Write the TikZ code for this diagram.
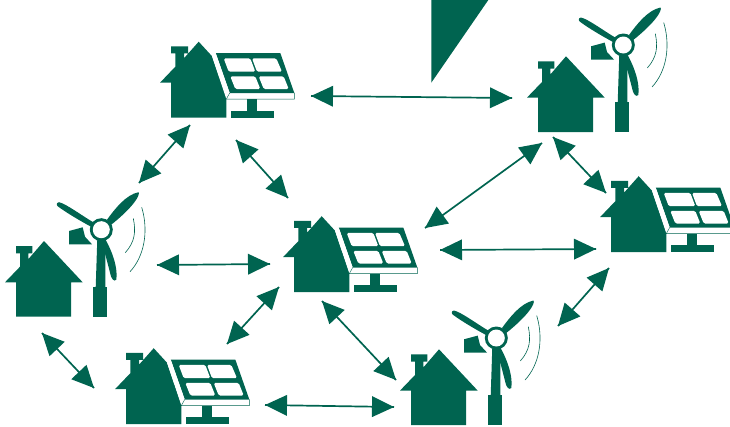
\documentclass[tikz,border=0pt]{standalone}
\usepackage{xcolor}
\usetikzlibrary{calc}
\definecolor{gridgreen}{RGB}{0,100,80}
\tikzset{
  link/.style={line width=1.7pt, draw=gridgreen},
  linkhead/.style={fill=gridgreen, draw=none},
  solid part/.style={fill=gridgreen, draw=none},
  cell/.style={fill=white, draw=none, rounded corners=1.5pt},
  % roof, walls and chimney, origin at the left wall foot
  solarhouse/.pic={
    \fill[gridgreen] (0,0) -- (0,-35) -- (-11,-35) -- (4.3,-51) -- (4.3,-64.3) -- (0,-64.3) -- (0,-71.3) -- (17,-71.3) -- (17,-64.3) -- (13,-64.3) -- (13,-59.5) -- (27.7,-76) -- (41,-61.5) -- (55.3,-20) -- (55.3,0) -- cycle;
    % panel
    \fill[solid part] (44.7,-64.7) -- (109.3,-64.7) -- (123.3,-24.7) -- (58.7,-24.7) -- cycle;
    \fill[white] (41,-61.5) -- (44.7,-64.7) -- (58.7,-24.7) -- (57,-18.6) -- (55.3,-19) -- cycle;
    \draw[gridgreen, fill=white, line width=.4pt] (55.3,-18.6) -- (123.3,-18.6) -- (123.3,-24.7) -- (58.7,-24.7) -- cycle;
    \fill[cell] (52.7,-59.3) -- (79.3,-59.3) -- (84.3,-46) -- (57.7,-46) -- cycle;
    \fill[cell] (81,-59.3) -- (105.3,-59.3) -- (111,-46) -- (86,-46) -- cycle;
    \fill[cell] (59.3,-41.3) -- (84.3,-41.3) -- (89.3,-28.7) -- (64.3,-28.7) -- cycle;
    \fill[cell] (87.7,-41.3) -- (112.7,-41.3) -- (117.7,-28.7) -- (92.7,-28.7) -- cycle;
    % stand
    \fill[gridgreen] (76,-18.6) rectangle (86,-7);
    \fill[gridgreen] (60,-7) rectangle (102.7,0);
  },
  % same origin, the hub sits 85.3 to the right and 87 up
  windhouse/.pic={
    \fill[gridgreen] (0,0) -- (0,-34.4) -- (-11,-34.4) -- (4,-50) -- (4,-63.4) -- (0,-63.4) -- (0,-70.7) -- (16.3,-70.7) -- (16.3,-63.4) -- (12.3,-63.4) -- (12.3,-57.5) -- (28,-75.7) -- (66.7,-34.4) -- (55,-34.4) -- (55,0) -- cycle;
    % tower
    \fill[gridgreen] (76.7,0) rectangle (91.3,-29.7);
    \fill[gridgreen] (79.7,-29) -- (81.3,-78) -- (89.3,-78) -- (89.3,-29) -- cycle;
    % nacelle
    \fill[gridgreen] (53,-85.7) -- (66.7,-89.4) -- (69,-80) -- (76,-72.4) -- (53,-72.4) -- cycle;
    % blades
    \fill[gridgreen] (91,-97) .. controls (99,-108) and (110,-122) .. (122.5,-124.5) .. controls (124.5,-122) and (118,-110) .. (94,-91) -- cycle;
    \fill[gridgreen] (78,-94) .. controls (66,-101) and (50,-113) .. (43,-114.5) .. controls (40,-114) and (40,-111) .. (43,-109.5) .. controls (52,-103) and (64,-96) .. (75,-90) -- cycle;
    \fill[gridgreen] (89,-78) .. controls (97,-64) and (102,-48) .. (100.3,-37) .. controls (98,-34.5) and (95,-38) .. (94,-44) .. controls (92,-52) and (90,-60) .. (88,-66) -- cycle;
    % hub
    \fill[gridgreen] (85.3,-87) circle (11.5);
    \fill[white] (85.3,-87) circle (8.5);
    % swoosh lines
    \draw[gridgreen, line width=.6pt] (117.3,-98.4) .. controls (120,-85) and (119,-75) .. (109.3,-64);
    \draw[gridgreen, line width=.6pt] (125.7,-109.4) .. controls (133,-85) and (128,-60) .. (114,-45);
  }
}
% line with a filled head at both ends
\newcommand{\linkboth}[2]{
  \draw[link] (#1) -- (#2);
  \fill[linkhead] (#1) -- ($(#1)!22pt!(#2)!10.5pt!90:(#2)$) -- ($(#1)!22pt!(#2)!10.5pt!-90:(#2)$) -- cycle;
  \fill[linkhead] (#2) -- ($(#2)!22pt!(#1)!10.5pt!90:(#1)$) -- ($(#2)!22pt!(#1)!10.5pt!-90:(#1)$) -- cycle;
}
\begin{document}
\begin{tikzpicture}[x=1pt, y=-1pt]
  \useasboundingbox (0,0) rectangle (730,426);
  \begin{scope}
  \clip (0,0) rectangle (730,426);

  % Bolt at the top edge
  \fill[gridgreen] (431.3,-1) -- (489,-1) -- (431.3,82.7) -- cycle;

  % Solar houses
  \pic at (171,117.7) {solarhouse};
  \pic at (294,292.2) {solarhouse};
  \pic at (611,252.2) {solarhouse};
  \pic at (126,424.2) {solarhouse};

  % Wind houses
  \pic at (16,316.7) {windhouse};
  \pic at (538,132) {windhouse};
  \pic at (411,425) {windhouse};
  \end{scope}

  % Connector ends
  \coordinate (a1) at (311,96);   \coordinate (a2) at (512,98);
  \coordinate (b1) at (190,125);  \coordinate (b2) at (139,183);
  \coordinate (c1) at (236,140);  \coordinate (c2) at (288,198);
  \coordinate (d1) at (542,143);  \coordinate (d2) at (425,228);
  \coordinate (e1) at (553,137);  \coordinate (e2) at (606,193);
  \coordinate (f1) at (157,265);  \coordinate (f2) at (270,264);
  \coordinate (g1) at (440,250);  \coordinate (g2) at (596,249);
  \coordinate (h1) at (279,287);  \coordinate (h2) at (227,344);
  \coordinate (i1) at (322,301);  \coordinate (i2) at (396,380);
  \coordinate (j1) at (609,268);  \coordinate (j2) at (558,326);
  \coordinate (k1) at (42,333);   \coordinate (k2) at (94,388);
  \coordinate (l1) at (265,405);  \coordinate (l2) at (394,407);

  % Links
  \linkboth{a1}{a2}
  \linkboth{b1}{b2}
  \linkboth{c1}{c2}
  \linkboth{d1}{d2}
  \linkboth{e1}{e2}
  \linkboth{f1}{f2}
  \linkboth{g1}{g2}
  \linkboth{h1}{h2}
  \linkboth{i1}{i2}
  \linkboth{j1}{j2}
  \linkboth{k1}{k2}
  \linkboth{l1}{l2}
\end{tikzpicture}
\end{document}
